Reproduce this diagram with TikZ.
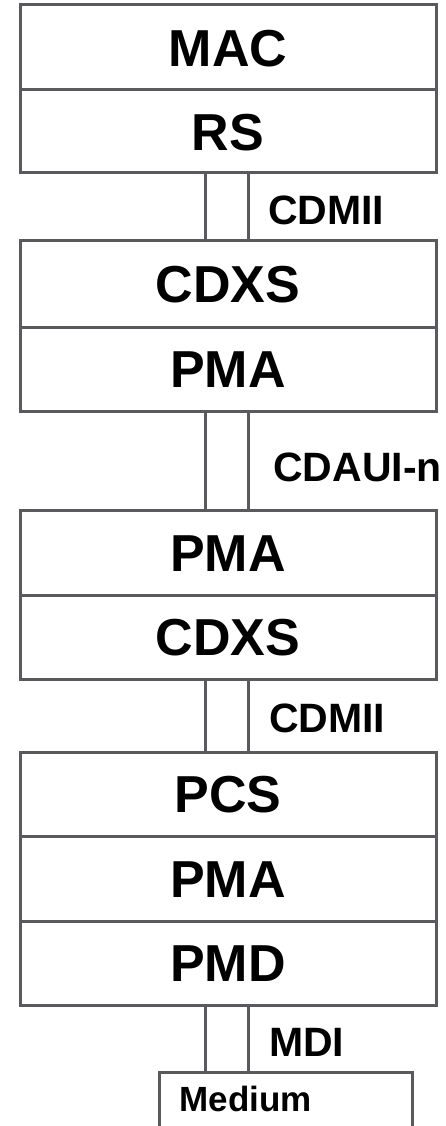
\documentclass[tikz,border=0pt]{standalone}
\usepackage{fontspec}
\setmainfont{Liberation Sans}
\definecolor{edge}{HTML}{5A5A5E}
\begin{document}
\begin{tikzpicture}[x=1pt,y=-1pt,
  layer/.style={draw=edge, line width=3pt, minimum width=416pt,
    inner sep=0pt, outer sep=0pt, font=\fontsize{52}{60}\selectfont\bfseries,
    text height=37.2pt, text depth=0pt},
  iface/.style={anchor=west, inner sep=0pt, font=\fontsize{41}{48}\selectfont\bfseries,
    text height=29.4pt, text depth=0pt},
  wire/.style={draw=edge, line width=3pt}]
\useasboundingbox (0,0) rectangle (446,1126);

% first stack
\node[layer, minimum height=85pt] (mac)   at (228,47.5)  {MAC};
\node[layer, minimum height=83pt] (rs)    at (228,131.5) {RS};
% second stack
\node[layer, minimum height=87pt] (cdxsA) at (228,283.5) {CDXS};
\node[layer, minimum height=84pt] (pmaA)  at (228,369)   {PMA};
% third stack
\node[layer, minimum height=85pt] (pmaB)  at (228,552.5) {PMA};
\node[layer, minimum height=84pt] (cdxsB) at (228,637)   {CDXS};
% fourth stack
\node[layer, minimum height=84pt] (pcs)   at (228,794)   {PCS};
\node[layer, minimum height=85pt] (pmaC)  at (228,878.5) {PMA};
\node[layer, minimum height=84pt] (pmd)   at (228,963)   {PMD};

% medium, running off the bottom edge
\node[draw=edge, line width=3pt, minimum width=253pt, minimum height=80pt,
      inner sep=0pt, outer sep=0pt] (medbox) at (285.5,1112) {};
\node[anchor=west, inner sep=0pt, font=\fontsize{35}{42}\selectfont\bfseries,
      text height=25.1pt, text depth=0pt] (medium) at (179.5,1099) {Medium};

% interface rails
\coordinate (lx) at (205,0);
\coordinate (rx) at (248,0);
\foreach \a/\b in {rs/cdxsA, pmaA/pmaB, cdxsB/pcs, pmd/medbox}{
  \draw[wire] (\a.south -| lx) -- (\b.north -| lx);
  \draw[wire] (\a.south -| rx) -- (\b.north -| rx);
}

% interface names
\node[iface] (cdmiiA) at (268,210)  {CDMII};
\node[iface] (cdaui)  at (273,467)  {CDAUI-n};
\node[iface] (cdmiiB) at (269,718)  {CDMII};
\node[iface] (mdi)    at (269,1042) {MDI};
\end{tikzpicture}
\end{document}
